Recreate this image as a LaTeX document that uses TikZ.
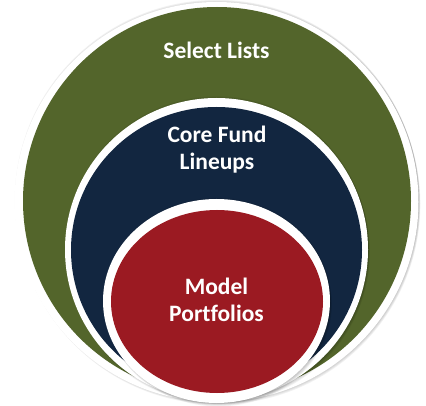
\documentclass[tikz,border=0pt]{standalone}
\usepackage{fontspec}
\setmainfont[Ligatures=NoCommon]{Carlito}
\usetikzlibrary{positioning, calc}

\definecolor{listgreen}{RGB}{83, 101, 43}
\definecolor{corenavy}{RGB}{18, 38, 64}
\definecolor{modelred}{RGB}{155, 26, 34}

\tikzset{
  rim/.style={fill=white},
  ringtext/.style={text=white, font=\fontsize{23.5}{27}\selectfont\bfseries, align=center, inner sep=0pt}
}

% soft shadow under a ring: centre, x radius, y radius
\newcommand{\ringshadow}[3]{%
  \foreach \s in {1,...,6}
    \fill[black, opacity=0.055] ($#1 + (0.3*\s, 0.9*\s)$) ellipse ({#2} and {#3});
}

\begin{document}
\begin{tikzpicture}[x=1pt, y=-1pt]
  \useasboundingbox (0, 0) rectangle (426, 406);

  % outer ring
  \ringshadow{(216.5, 199)}{202}{200}
  \fill[rim] (216.5, 202) ellipse (202 and 200);
  \fill[listgreen] (217, 201) ellipse (194 and 194);

  % middle ring
  \ringshadow{(216.5, 247)}{151.5}{151.5}
  \fill[rim] (216.5, 249.5) ellipse (151.5 and 151.5);
  \fill[corenavy] (216.5, 250) ellipse (145.5 and 143);

  % inner ring
  \ringshadow{(216.5, 299)}{113.5}{102}
  \fill[rim] (216.5, 301) ellipse (113.5 and 102);
  \fill[modelred] (217, 301.5) ellipse (106 and 91.5);

  % labels
  \node[ringtext] (select) at (216.5, 50) {Select Lists};
  \node[ringtext] (core) at (217, 150) {Core Fund\\Lineups};
  \node[ringtext] (model) at (216.5, 300) {Model\\Portfolios};
\end{tikzpicture}
\end{document}
